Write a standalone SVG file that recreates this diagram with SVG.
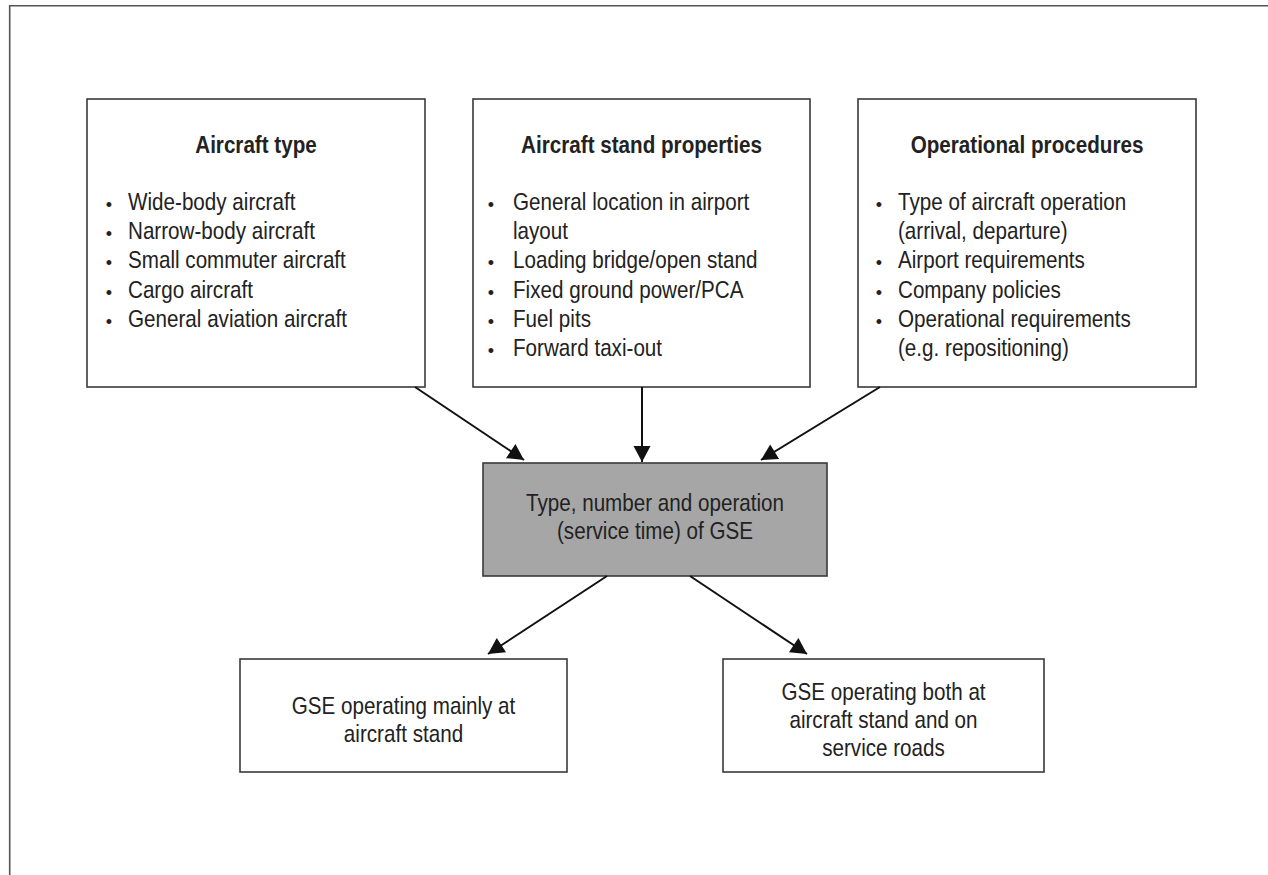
<svg xmlns="http://www.w3.org/2000/svg" width="1268" height="875" viewBox="0 0 1268 875">
<style>
.box{fill:#fff;stroke:#3a3a3a;stroke-width:1.6}
.gray{fill:#a6a6a6;stroke:#3a3a3a;stroke-width:1.6}
.frame{fill:none;stroke:#555;stroke-width:1.6}
.t{font-family:"Liberation Sans",Arial,sans-serif;font-size:24px;fill:#222}
.b{font-weight:bold}
.c{text-anchor:middle}
.dot{font-family:"Liberation Sans",Arial,sans-serif;font-size:18px;fill:#222;text-anchor:middle}
.conn{stroke:#111;stroke-width:2;fill:none;marker-end:url(#ah)}
</style>
<defs>
<marker id="ah" markerUnits="userSpaceOnUse" markerWidth="18" markerHeight="18" viewBox="0 0 18 18" refX="17" refY="9" orient="auto">
<path d="M1,0.5 L17,9 L1,17.5 Z" fill="#111"/>
</marker>
</defs>
<path class="frame" d="M9.7,875 V5.7 H1268"/>

<g id="node-aircraft-type">
<rect class="box" x="87" y="99" width="338" height="288"/>
<text class="t b c" transform="translate(256 153) scale(0.86 1)">Aircraft type</text>
<text class="dot" x="109" y="211">•</text>
<text class="t" transform="translate(128 210) scale(0.86 1)">Wide-body aircraft</text>
<text class="dot" x="109" y="240.2">•</text>
<text class="t" transform="translate(128 239.2) scale(0.86 1)">Narrow-body aircraft</text>
<text class="dot" x="109" y="269.4">•</text>
<text class="t" transform="translate(128 268.4) scale(0.86 1)">Small commuter aircraft</text>
<text class="dot" x="109" y="298.6">•</text>
<text class="t" transform="translate(128 297.6) scale(0.86 1)">Cargo aircraft</text>
<text class="dot" x="109" y="327.8">•</text>
<text class="t" transform="translate(128 326.8) scale(0.86 1)">General aviation aircraft</text>
</g>

<g id="node-stand-properties">
<rect class="box" x="473" y="99" width="337" height="288"/>
<text class="t b c" transform="translate(641.5 153) scale(0.86 1)">Aircraft stand properties</text>
<text class="dot" x="491" y="211">•</text>
<text class="t" transform="translate(513 210) scale(0.86 1)">General location in airport</text>
<text class="t" transform="translate(513 239.2) scale(0.86 1)">layout</text>
<text class="dot" x="491" y="269.4">•</text>
<text class="t" transform="translate(513 268.4) scale(0.86 1)">Loading bridge/open stand</text>
<text class="dot" x="491" y="298.6">•</text>
<text class="t" transform="translate(513 297.6) scale(0.86 1)">Fixed ground power/PCA</text>
<text class="dot" x="491" y="327.8">•</text>
<text class="t" transform="translate(513 326.8) scale(0.86 1)">Fuel pits</text>
<text class="dot" x="491" y="357">•</text>
<text class="t" transform="translate(513 356) scale(0.86 1)">Forward taxi-out</text>
</g>

<g id="node-operational-procedures">
<rect class="box" x="858" y="99" width="338" height="288"/>
<text class="t b c" transform="translate(1027 153) scale(0.86 1)">Operational procedures</text>
<text class="dot" x="879" y="211">•</text>
<text class="t" transform="translate(898 210) scale(0.86 1)">Type of aircraft operation</text>
<text class="t" transform="translate(898 239.2) scale(0.86 1)">(arrival, departure)</text>
<text class="dot" x="879" y="269.4">•</text>
<text class="t" transform="translate(898 268.4) scale(0.86 1)">Airport requirements</text>
<text class="dot" x="879" y="298.6">•</text>
<text class="t" transform="translate(898 297.6) scale(0.86 1)">Company policies</text>
<text class="dot" x="879" y="327.8">•</text>
<text class="t" transform="translate(898 326.8) scale(0.86 1)">Operational requirements</text>
<text class="t" transform="translate(898 356) scale(0.86 1)">(e.g. repositioning)</text>
</g>

<g id="node-gse">
<rect class="gray" x="483" y="463" width="344" height="113"/>
<text class="t c" transform="translate(655 511) scale(0.86 1)">Type, number and operation</text>
<text class="t c" transform="translate(655 539) scale(0.86 1)">(service time) of GSE</text>
</g>

<g id="node-gse-stand">
<rect class="box" x="240" y="659" width="327" height="113"/>
<text class="t c" transform="translate(403.5 714) scale(0.86 1)">GSE operating mainly at</text>
<text class="t c" transform="translate(403.5 742) scale(0.86 1)">aircraft stand</text>
</g>

<g id="node-gse-both">
<rect class="box" x="723" y="659" width="321" height="113"/>
<text class="t c" transform="translate(883.5 700) scale(0.86 1)">GSE operating both at</text>
<text class="t c" transform="translate(883.5 728) scale(0.86 1)">aircraft stand and on</text>
<text class="t c" transform="translate(883.5 756) scale(0.86 1)">service roads</text>
</g>

<g id="connectors">
<line class="conn" x1="415" y1="387" x2="524" y2="460"/>
<line class="conn" x1="642" y1="387" x2="642" y2="462"/>
<line class="conn" x1="880" y1="387" x2="761" y2="460"/>
<line class="conn" x1="607" y1="576" x2="488" y2="654"/>
<line class="conn" x1="690" y1="576" x2="807" y2="654"/>
</g>
</svg>
